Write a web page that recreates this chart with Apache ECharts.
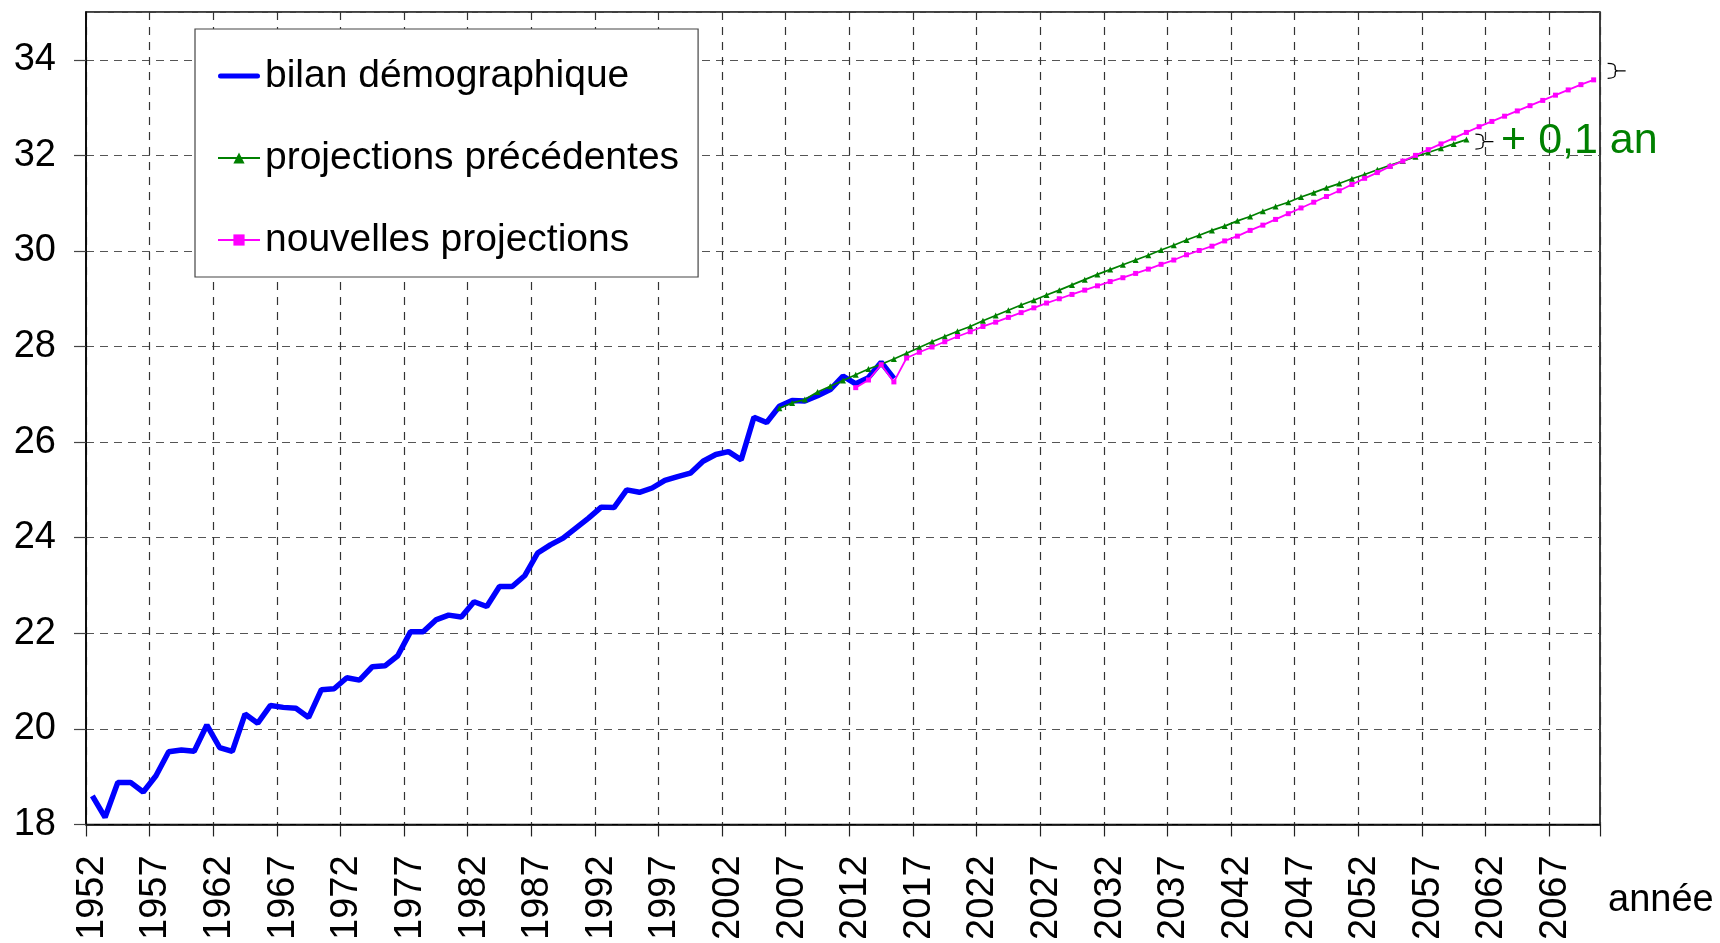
<!DOCTYPE html>
<html>
<head>
<meta charset="utf-8">
<script src="https://cdn.jsdelivr.net/npm/echarts@6/dist/echarts.min.js"></script>
<style>
html,body{margin:0;padding:0;background:#fff;}
#chart{width:1720px;height:943px;}
</style>
</head>
<body>
<div id="chart"></div>
<script>
// ---- data ----
const firstYear = 1952;
const lastYear = 2070;
const seriesNames = ['bilan démographique', 'projections précédentes', 'nouvelles projections'];

const bilanStart = 1952;
const bilan = [18.60, 18.15, 18.88, 18.88, 18.68, 19.02, 19.52, 19.56, 19.53, 20.08,
  19.61, 19.53, 20.31, 20.12, 20.49, 20.45, 20.43, 20.24, 20.82, 20.84,
  21.07, 21.02, 21.30, 21.32, 21.53, 22.03, 22.03, 22.28, 22.38, 22.34,
  22.66, 22.56, 22.98, 22.98, 23.21, 23.68, 23.85, 23.99, 24.20, 24.41,
  24.64, 24.63, 25.00, 24.95, 25.04, 25.20, 25.28, 25.35, 25.60, 25.74,
  25.80, 25.63, 26.52, 26.41, 26.75, 26.87, 26.86, 26.97, 27.10, 27.38,
  27.22, 27.35, 27.67, 27.33];

const precStart = 2006;
const precedentes = [26.71, 26.82, 26.89, 27.05, 27.17, 27.29, 27.41, 27.53, 27.63, 27.74,
  27.86, 27.98, 28.10, 28.21, 28.32, 28.42, 28.54, 28.65, 28.76, 28.87,
  28.97, 29.08, 29.18, 29.29, 29.40, 29.51, 29.61, 29.71, 29.81, 29.91,
  30.02, 30.12, 30.23, 30.33, 30.43, 30.52, 30.63, 30.72, 30.83, 30.93,
  31.02, 31.13, 31.22, 31.32, 31.41, 31.51, 31.60, 31.70, 31.79, 31.88,
  31.97, 32.06, 32.15, 32.24, 32.33];

const nouvStart = 2012;
const nouvelles = [27.14, 27.30, 27.62, 27.26, 27.76, 27.88, 27.99, 28.10, 28.21, 28.31,
  28.42, 28.51, 28.61, 28.71, 28.81, 28.91, 29.00, 29.09, 29.18, 29.27,
  29.36, 29.44, 29.53, 29.62, 29.72, 29.81, 29.92, 30.01, 30.10, 30.21,
  30.31, 30.43, 30.54, 30.66, 30.78, 30.90, 31.02, 31.14, 31.26, 31.39,
  31.52, 31.64, 31.77, 31.88, 32.00, 32.12, 32.24, 32.36, 32.48, 32.60,
  32.71, 32.82, 32.93, 33.04, 33.15, 33.26, 33.37, 33.48, 33.58];

const yMin = 18, yMax = 35, yStep = 2;
const labelEvery = 5;
const axisName = 'année';
const diffLabel = '+ 0,1 an';

// ---- build ----
const years = [];
for (let y = firstYear; y <= lastYear; y++) years.push(String(y));
function place(start, vals) {
  return years.map(function (y) {
    const i = Number(y) - start;
    return (i >= 0 && i < vals.length) ? vals[i] : '-';
  });
}
const FONT = '"Liberation Sans", Arial, Helvetica, sans-serif';
const bracePath = 'path://M0,0 C6,0 8,1 8,4 L8,6 C8,7.5 9,8 11,8 C9,8 8,8.5 8,10 L8,12 C8,15 6,16 0,16 M11,8 L19,8';
const braceStyle = {color: 'transparent', borderColor: '#000', borderWidth: 1.2};
const thickLineIcon = 'path://M2.5,0 L39.5,0 A2.5,2.5 0 0 1 39.5,5 L2.5,5 A2.5,2.5 0 0 1 2.5,0 Z';

const chart = echarts.init(document.getElementById('chart'), null, {renderer: 'canvas'});
chart.setOption({
  animation: false,
  backgroundColor: '#fff',
  textStyle: {fontFamily: FONT},
  grid: {left: 86, right: 120, top: 12, bottom: 118, show: true, borderColor: '#000', borderWidth: 1.5, backgroundColor: 'transparent'},
  legend: {
    orient: 'vertical', left: 195, top: 29,
    itemWidth: 42, itemHeight: 14, itemGap: 38,
    padding: [25, 19, 15, 22],
    backgroundColor: '#fff', borderColor: '#444', borderWidth: 1.2,
    textStyle: {fontSize: 39, color: '#000', fontFamily: FONT, lineHeight: 44},
    data: [
      {name: seriesNames[0], icon: thickLineIcon, itemStyle: {color: '#0000ff'}},
      {name: seriesNames[1]},
      {name: seriesNames[2]}
    ]
  },
  xAxis: {
    type: 'category', data: years, boundaryGap: true,
    name: axisName, nameLocation: 'end', nameGap: 8,
    nameTextStyle: {fontSize: 38, color: '#000', fontFamily: FONT, verticalAlign: 'top', padding: [57, 0, 0, 0]},
    axisLine: {show: true, lineStyle: {color: '#000', width: 1.5}},
    axisTick: {show: true, interval: labelEvery - 1, length: 12, lineStyle: {color: '#222', width: 1.2}},
    axisLabel: {interval: labelEvery - 1, rotate: 90, fontSize: 38, color: '#000', margin: 31, fontFamily: FONT},
    splitLine: {show: true, interval: labelEvery - 1, lineStyle: {color: '#333', width: 1.2, type: [8, 7]}}
  },
  yAxis: {
    type: 'value', min: yMin, max: yMax, interval: yStep,
    axisLine: {show: true, lineStyle: {color: '#000', width: 1.5}},
    axisTick: {show: true, length: 12, lineStyle: {color: '#444', width: 1.2}},
    axisLabel: {fontSize: 38, color: '#000', margin: 30, showMaxLabel: false, fontFamily: FONT},
    splitLine: {show: true, lineStyle: {color: '#555', width: 1.2, type: [8, 6]}}
  },
  series: [
    {
      name: seriesNames[0], type: 'line', data: place(bilanStart, bilan),
      symbol: 'none', lineStyle: {color: '#0000ff', width: 5.5}, itemStyle: {color: '#0000ff'},
      connectNulls: false, z: 2
    },
    {
      name: seriesNames[1], type: 'line', data: place(precStart, precedentes),
      symbol: 'triangle', symbolSize: 6, showSymbol: true, showAllSymbol: true,
      lineStyle: {color: '#008000', width: 1.7}, itemStyle: {color: '#008000'}, z: 3,
      markPoint: {
        symbol: bracePath, symbolSize: [18, 15], symbolOffset: [18, 2],
        itemStyle: braceStyle,
        label: {show: true, position: 'right', distance: 7, formatter: diffLabel, fontSize: 43, color: '#008000', fontFamily: FONT},
        data: [{coord: [String(precStart + precedentes.length - 1), precedentes[precedentes.length - 1]]}]
      }
    },
    {
      name: seriesNames[2], type: 'line', data: place(nouvStart, nouvelles),
      symbol: 'rect', symbolSize: 5, showSymbol: true, showAllSymbol: true,
      lineStyle: {color: '#ff00ff', width: 1.8}, itemStyle: {color: '#ff00ff'}, z: 4,
      markPoint: {
        symbol: bracePath, symbolSize: [18, 15], symbolOffset: [23, -9],
        itemStyle: braceStyle,
        label: {show: false},
        data: [{coord: [String(nouvStart + nouvelles.length - 1), nouvelles[nouvelles.length - 1]]}]
      }
    }
  ]
});
</script>
</body>
</html>
